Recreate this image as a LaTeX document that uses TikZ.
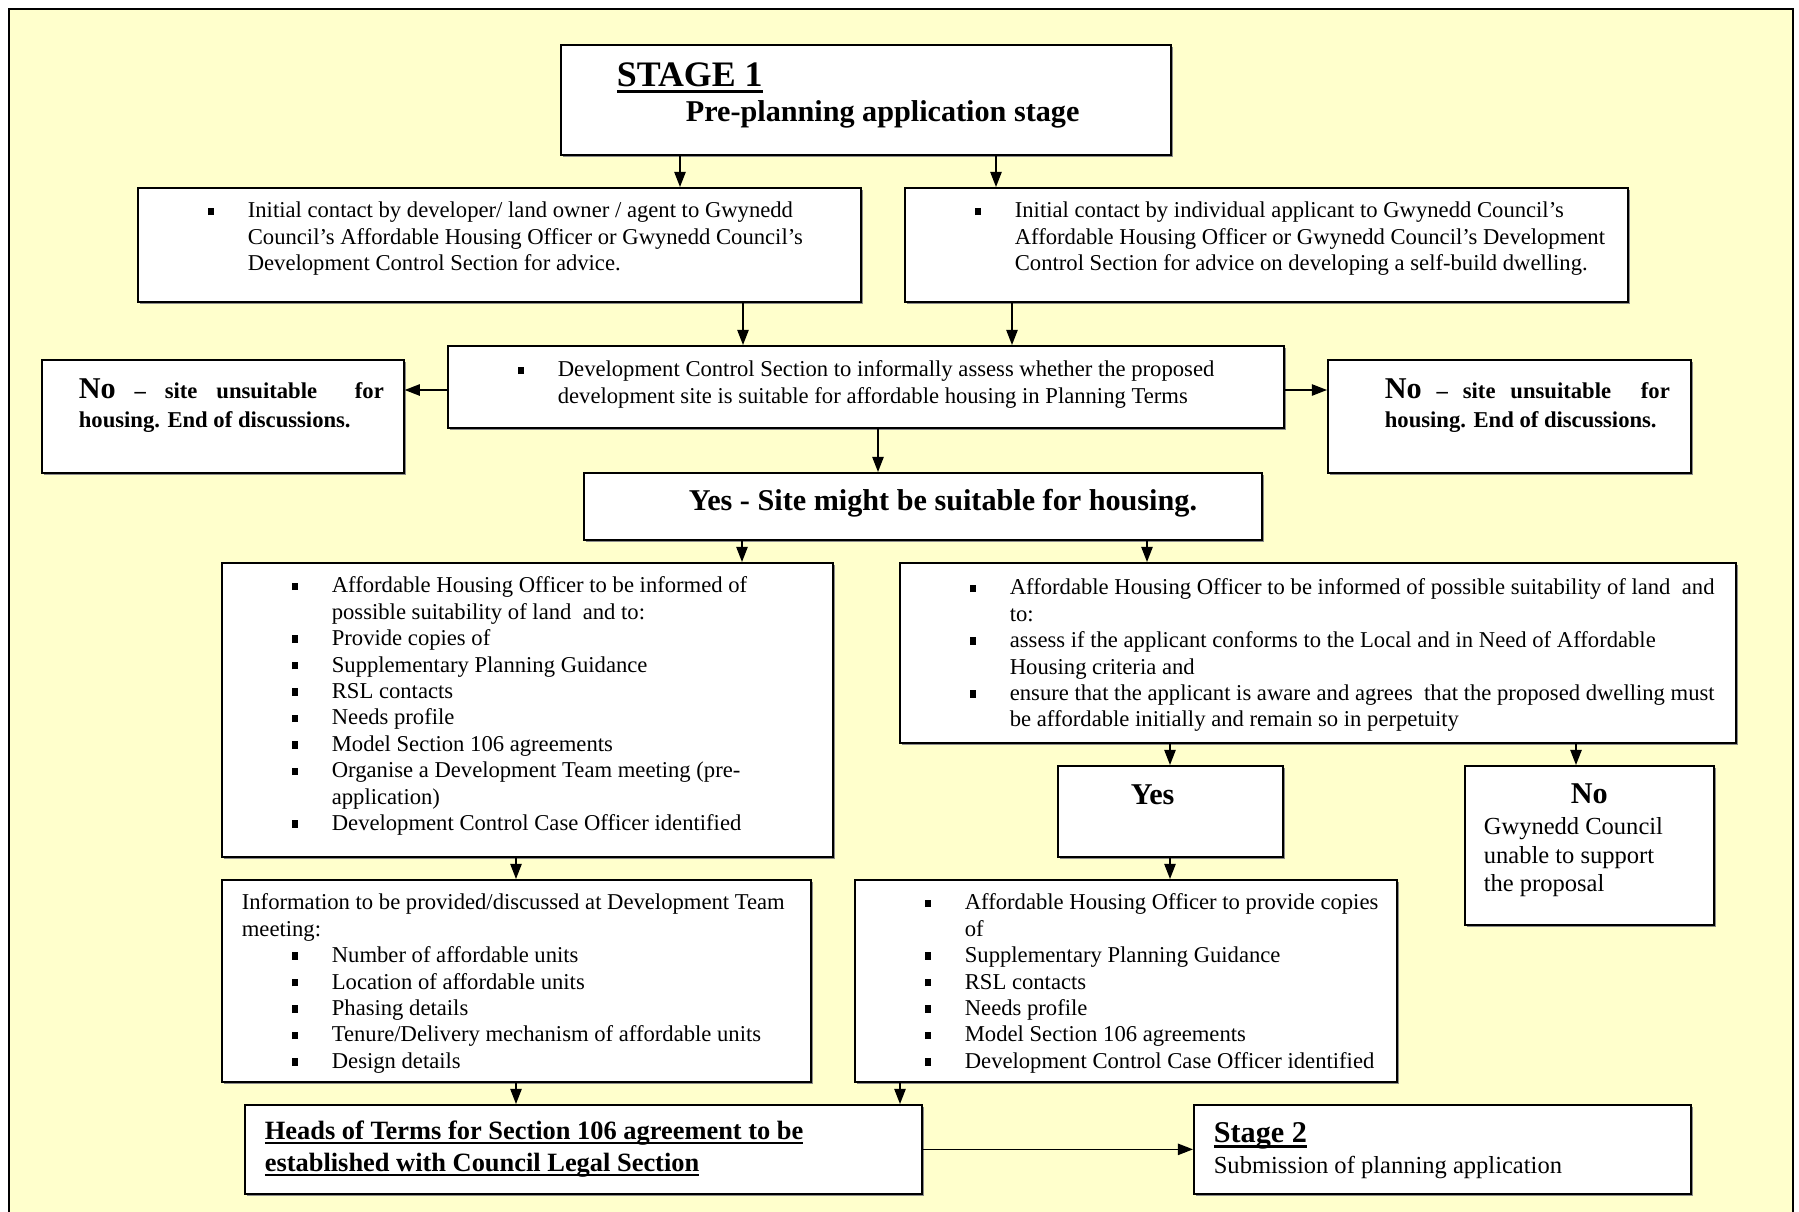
\documentclass[tikz,border=0pt]{standalone}
\usepackage{fontspec}
\setmainfont{Liberation Serif}
\usetikzlibrary{arrows.meta,positioning,shadows}

\newdimen\px \px=0.53pt
\definecolor{paper}{HTML}{FFFFCC}

% square bullet, underline, bullet line, indented line, fixed cell
\newcommand{\sqb}{\rule[0.12em]{0.27em}{0.33em}}
\newcommand{\ul}[1]{\setbox0\hbox{#1}\rlap{\rule[-0.16em]{\wd0}{0.075em}}\box0}
\newcommand{\bul}{\par\leftskip=0pt\hangindent=110\px\hangafter=1\noindent\hspace*{70\px}\makebox[40\px][l]{\sqb}}
\newcommand{\ind}[1]{\par\leftskip=#1\px\noindent}
\newcommand{\cell}[4]{\parbox[c][#2\px][t]{#1\px}{\lineskiplimit=-\maxdimen\rightskip=0pt plus 1fil\vspace*{\dimexpr#3\px-\baselineskip\relax}\hbox{}#4\par}}

\begin{document}
\begin{tikzpicture}[x=0.53pt, y=-0.53pt,
    bx/.style={draw, line width=0.9pt, fill=white, inner sep=0pt, anchor=north west,
      drop shadow={shadow xshift=1pt, shadow yshift=-1pt, fill=black!45, opacity=1},
      font=\fontsize{12}{14}\selectfont},
    arr/.style={-{Triangle[length=8pt,width=6pt]}, line width=0.8pt}]

\useasboundingbox (0,0) rectangle (1799,1212);
\draw[line width=1pt, fill=paper] (9,9) rectangle (1793,1260);

% stage 1
\node[bx, font=\bfseries\fontsize{16}{18.6}\selectfont] (stage) at (560,44)
  {\cell{610}{110}{42}{\ind{56}{\fontsize{19}{18.6}\selectfont\ul{STAGE 1}}\ind{125}Pre-planning application stage}};

% first contact
\node[bx] (A) at (137,187) {\cell{723}{114}{30}{\bul Initial contact by developer/ land owner / agent to Gwynedd\\Council’s Affordable Housing Officer or Gwynedd Council’s\\Development Control Section for advice.}};
\node[bx] (B) at (904,187) {\cell{723}{114}{30}{\bul Initial contact by individual applicant to Gwynedd Council’s\\Affordable Housing Officer or Gwynedd Council’s Development\\Control Section for advice on developing a self-build dwelling.}};

% assessment
\node[bx] (C) at (447,345) {\cell{836}{82}{31}{\bul Development Control Section to informally assess whether the proposed\\development site is suitable for affordable housing in Planning Terms}};
\node[bx, font=\bfseries\fontsize{12}{15.4}\selectfont] (noL) at (41,359)
  {\cell{362}{113}{39}{\leftskip=37\px\rightskip=20\px\noindent{\fontsize{16}{15.4}\selectfont No} – site unsuitable\ \ for\linebreak housing. End of discussions.}};
\node[bx, font=\bfseries\fontsize{12}{15.4}\selectfont] (noR) at (1327,359)
  {\cell{363}{113}{39}{\leftskip=57\px\rightskip=21\px\noindent{\fontsize{16}{15.4}\selectfont No} – site unsuitable\ \ for\linebreak housing. End of discussions.}};
\node[bx, font=\bfseries\fontsize{16}{18}\selectfont] (yes) at (583,472)
  {\cell{678}{67}{38}{\ind{105}Yes - Site might be suitable for housing.}};

% housing officer
\node[bx] (D) at (221,562) {\cell{611}{294}{30}{%
  \bul Affordable Housing Officer to be informed of\\possible suitability of land~ and to:
  \bul Provide copies of
  \bul Supplementary Planning Guidance
  \bul RSL contacts
  \bul Needs profile
  \bul Model Section 106 agreements
  \bul Organise a Development Team meeting (pre-\\application)
  \bul Development Control Case Officer identified}};
\node[bx] (E) at (899,562) {\cell{836}{180}{32}{%
  \bul Affordable Housing Officer to be informed of possible suitability of land~ and\\to:
  \bul assess if the applicant conforms to the Local and in Need of Affordable\\Housing criteria and
  \bul ensure that the applicant is aware and agrees~ that the proposed dwelling must\\be affordable initially and remain so in perpetuity}};
\node[bx, font=\bfseries\fontsize{16}{18}\selectfont] (yes2) at (1057,765)
  {\cell{225}{91}{39}{\ind{73}Yes}};
\node[bx, font=\fontsize{13}{15.2}\selectfont] (no2) at (1464,765)
  {\cell{249}{159}{38}{{\centering\bfseries\fontsize{16}{15.2}\selectfont No\par}\vspace{2\px}\ind{19}Gwynedd Council\\unable to support\\the proposal}};

% meeting and copies
\node[bx] (F) at (221,879) {\cell{589}{202}{30}{%
  \ind{20}Information to be provided/discussed at Development Team\\meeting:
  \bul Number of affordable units
  \bul Location of affordable units
  \bul Phasing details
  \bul Tenure/Delivery mechanism of affordable units
  \bul Design details}};
\node[bx] (G) at (854,879) {\cell{542}{202}{30}{%
  \bul Affordable Housing Officer to provide copies\\of
  \bul Supplementary Planning Guidance
  \bul RSL contacts
  \bul Needs profile
  \bul Model Section 106 agreements
  \bul Development Control Case Officer identified}};

% section 106 and stage 2
\node[bx, font=\bfseries\fontsize{14}{17}\selectfont] (heads) at (244,1104)
  {\cell{677}{89}{35}{\ind{20}\ul{Heads of Terms for Section 106 agreement to be}\\\ul{established with Council Legal Section}}};
\node[bx, font=\fontsize{13}{16}\selectfont] (st2) at (1193,1104)
  {\cell{497}{89}{38}{\ind{20}{\bfseries\fontsize{16}{16}\selectfont\ul{Stage 2}}\\Submission of planning application}};

% arrow columns
\foreach \n/\x in {k1/680, k2/996, k3/743, k4/1012, k5/878, k6/742, k7/1147, k8/1170, k9/1576, k10/516, k11/900}
  \coordinate (\n) at (\x,0);
\coordinate (r1) at (0,390);

\path[arr]
  (stage.south -| k1) edge (A.north -| k1)
  (stage.south -| k2) edge (B.north -| k2)
  (A.south -| k3) edge (C.north -| k3)
  (B.south -| k4) edge (C.north -| k4)
  (C.west |- r1) edge (noL.east |- r1)
  (C.east |- r1) edge (noR.west |- r1)
  (C.south -| k5) edge (yes.north -| k5)
  (yes.south -| k6) edge (D.north -| k6)
  (yes.south -| k7) edge (E.north -| k7)
  (E.south -| k8) edge (yes2.north -| k8)
  (E.south -| k9) edge (no2.north -| k9)
  (yes2.south -| k8) edge (G.north -| k8)
  (D.south -| k10) edge (F.north -| k10)
  (F.south -| k10) edge (heads.north -| k10)
  (G.south -| k11) edge (heads.north -| k11)
  (heads.east) edge (st2.west);
\end{tikzpicture}
\end{document}
